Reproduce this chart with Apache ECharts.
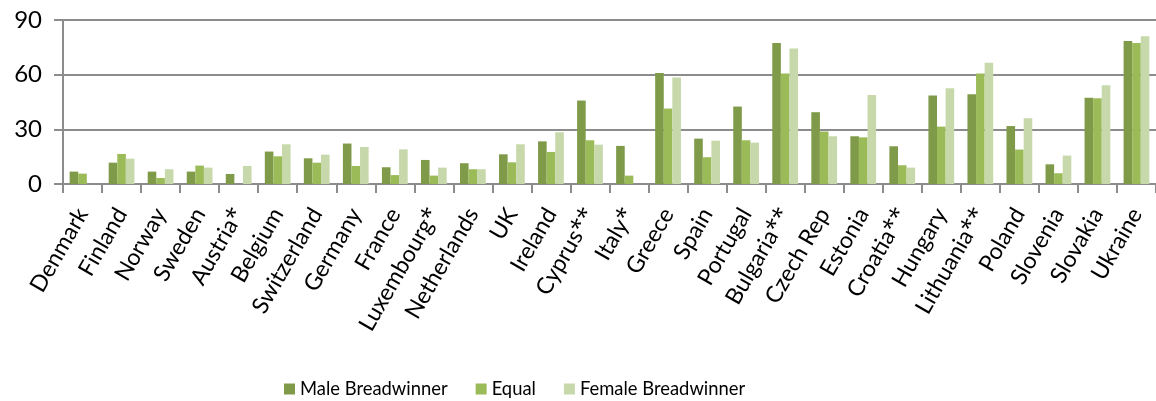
<!DOCTYPE html>
<html>
<head>
<meta charset="utf-8">
<script src="https://cdn.jsdelivr.net/npm/echarts@6/dist/echarts.min.js"></script>
<style>
  html, body { margin: 0; padding: 0; background: #fff; }
  #chart { width: 1156px; height: 401px; }
</style>
</head>
<body>
<div id="chart"></div>
<script>
// countries on the x axis
var countries = ['Denmark', 'Finland', 'Norway', 'Sweden', 'Austria*', 'Belgium', 'Switzerland',
    'Germany', 'France', 'Luxembourg*', 'Netherlands', 'UK', 'Ireland', 'Cyprus**', 'Italy*',
    'Greece', 'Spain', 'Portugal', 'Bulgaria**', 'Czech Rep', 'Estonia', 'Croatia**', 'Hungary',
    'Lithuania**', 'Poland', 'Slovenia', 'Slovakia', 'Ukraine'];

// values
var maleBreadwinner = [6.8, 11.7, 6.8, 6.8, 5.5, 17.8, 14.1, 22.2, 9.2, 13.2, 11.4, 16.3, 23.4, 45.8, 20.9,
    60.9, 24.9, 42.5, 77.4, 39.4, 26.2, 20.7, 48.5, 49.2, 31.8, 10.8, 47.4, 78.5];
var equal = [5.7, 16.5, 3.3, 10.1, null, 15.2, 11.7, 9.9, 4.9, 4.6, 8.1, 11.9, 17.6, 24.0, 4.6,
    41.4, 14.7, 24.0, 60.6, 28.8, 25.6, 10.3, 31.5, 60.6, 18.9, 5.9, 47.0, 77.4];
var femaleBreadwinner = [null, 13.9, 8.1, 9.0, 9.9, 21.8, 16.1, 20.3, 19.0, 9.0, 8.1, 21.8, 28.4, 21.6, null,
    58.4, 23.8, 22.7, 74.3, 26.2, 48.8, 9.0, 52.5, 66.6, 36.1, 15.6, 54.2, 81.1];

var yTicks = [0, 30, 60, 90];

var fontFam = 'Lato, "Open Sans", sans-serif';
var gridGray = '#8c8c8c';

var myChart = echarts.init(document.getElementById('chart'));

var option = {
    animation: false,
    textStyle: { fontFamily: fontFam },
    color: ['#7f9a48', '#9bbb59', '#c7d8aa'],
    grid: {
        left: 63,
        top: 20,
        width: 1100,
        height: 164
    },
    legend: {
        left: 279,
        top: 375,
        icon: 'rect',
        itemWidth: 11,
        itemHeight: 11,
        itemGap: 28,
        textStyle: { fontSize: 18.4, color: '#000', fontFamily: fontFam },
        data: ['Male Breadwinner', 'Equal', 'Female Breadwinner']
    },
    xAxis: {
        type: 'category',
        data: countries,
        axisLine: { lineStyle: { color: gridGray, width: 2 } },
        axisTick: { show: true, length: 9, lineStyle: { color: gridGray, width: 2 } },
        axisLabel: {
            rotate: 60,
            interval: 0,
            margin: 26,
            fontSize: 23,
            color: '#000',
            fontFamily: fontFam,
            // asterisks drawn in a font where they are a normal size
            formatter: function (v) {
                var m = v.match(/^(.*?)(\**)$/);
                return m[2] ? m[1] + '{s|' + m[2] + '}' : v;
            },
            rich: {
                s: { fontSize: 23, fontFamily: '"Open Sans", sans-serif', color: '#000' }
            }
        }
    },
    yAxis: {
        type: 'value',
        min: yTicks[0],
        max: yTicks[yTicks.length - 1],
        interval: 30,
        axisLine: { show: true, lineStyle: { color: gridGray, width: 2 } },
        axisTick: { show: true, length: 9, lineStyle: { color: gridGray, width: 2 } },
        splitLine: { lineStyle: { color: gridGray, width: 2 } },
        axisLabel: { fontSize: 24, color: '#000', margin: 21, fontFamily: fontFam }
    },
    series: [
        {
            name: 'Male Breadwinner',
            type: 'bar',
            barGap: '0%',
            barCategoryGap: '34%',
            data: maleBreadwinner
        },
        {
            name: 'Equal',
            type: 'bar',
            barGap: '0%',
            barCategoryGap: '34%',
            data: equal
        },
        {
            name: 'Female Breadwinner',
            type: 'bar',
            barGap: '0%',
            barCategoryGap: '34%',
            data: femaleBreadwinner
        }
    ]
};
myChart.setOption(option);
</script>
</body>
</html>
